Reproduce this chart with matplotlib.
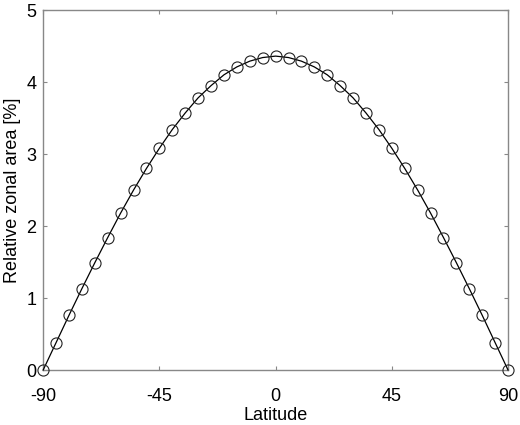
import matplotlib
matplotlib.use("Agg")
import matplotlib.pyplot as plt

latitude = [-90, -85, -80, -75, -70, -65, -60, -55, -50, -45, -40, -35, -30, -25, -20, -15, -10, -5,
            0, 5, 10, 15, 20, 25, 30, 35, 40, 45, 50, 55, 60, 65, 70, 75, 80, 85, 90]
zonal_area = [0.0, 0.38, 0.76, 1.13, 1.49, 1.84, 2.18, 2.50, 2.80, 3.08, 3.34, 3.57, 3.78, 3.95, 4.10, 4.21, 4.29, 4.34,
              4.36, 4.34, 4.29, 4.21, 4.10, 3.95, 3.78, 3.57, 3.34, 3.08, 2.80, 2.50, 2.18, 1.84, 1.49, 1.13, 0.76, 0.38, 0.0]
xticks = [-90, -45, 0, 45, 90]
yticks = [0, 1, 2, 3, 4, 5]

plt.rcParams['font.family'] = ['Liberation Sans', 'DejaVu Sans']
plt.rcParams['axes.unicode_minus'] = False
fig = plt.figure(figsize=(5.2, 4.25), dpi=100)
ax = fig.add_axes([0.083, 0.1294, 0.894, 0.847])
ax.plot(latitude, zonal_area, color='black', lw=0.9, marker='o', ms=8,
        mfc='none', mec='#222222', mew=0.8, clip_on=False, zorder=3)
ax.set_xlim(-90, 90)
ax.set_ylim(0, 5)
ax.set_xticks(xticks)
ax.set_yticks(yticks)
ax.tick_params(direction='in', length=3, width=0.8, color='#888888', labelsize=13,
               top=True, right=True)
ax.tick_params(axis='x', pad=13)
ax.tick_params(axis='y', pad=5)
for s in ax.spines.values():
    s.set_color('#888888')
    s.set_linewidth(1.0)
ax.set_xlabel('Latitude', fontsize=13, labelpad=1.2)
ax.set_ylabel('Relative zonal area [%]', fontsize=13, labelpad=4)
fig.savefig('out.png', dpi=100)
